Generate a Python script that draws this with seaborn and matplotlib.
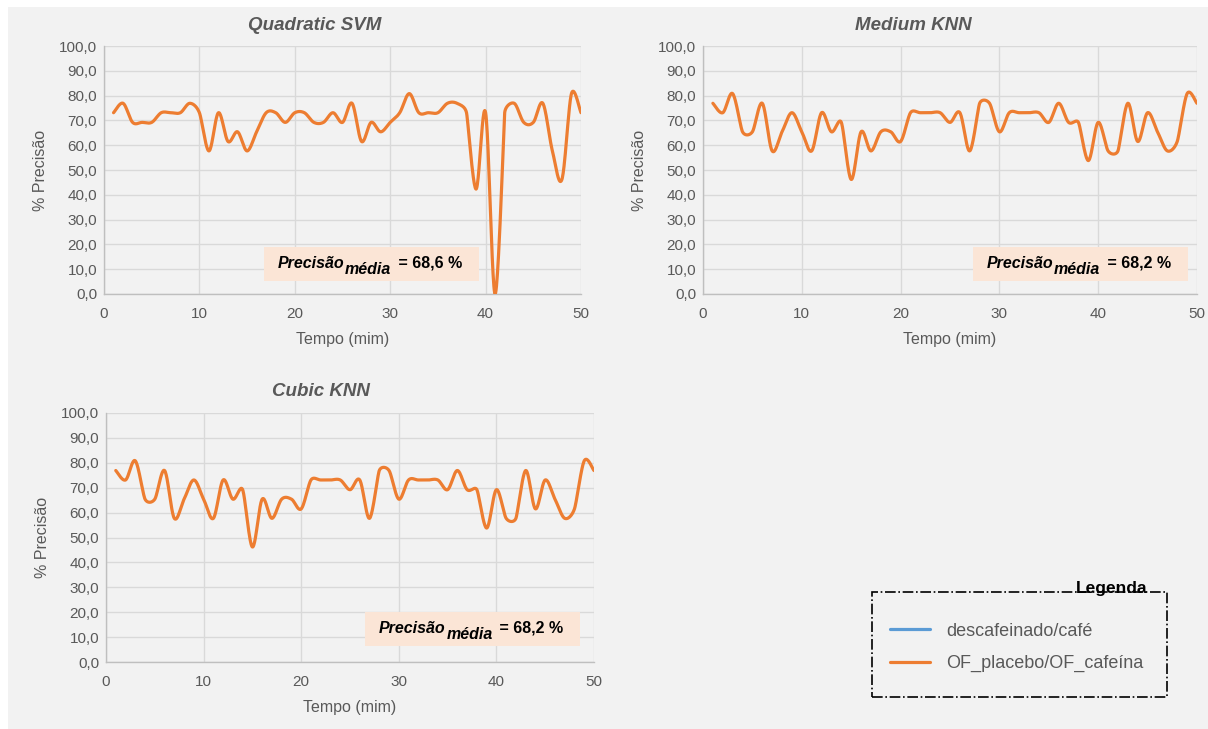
import matplotlib

matplotlib.use("Agg")
import matplotlib.pyplot as plt
import numpy as np
import seaborn as sns
from matplotlib.lines import Line2D
from matplotlib.patches import Rectangle

W, H, DPI = 1208, 729, 100

tempo = list(range(1, 51))

precisao_svm = [73.1, 76.9, 69.2, 69.2, 69.2, 73.1, 73.1, 73.1, 76.9, 73.1,
                57.7, 73.1, 61.5, 65.4, 57.7, 65.4, 73.1, 73.1, 69.2, 73.1,
                73.1, 69.2, 69.2, 73.1, 69.2, 76.9, 61.5, 69.2, 65.4, 69.2,
                73.1, 80.8, 73.1, 73.1, 73.1, 76.9, 76.9, 73.1, 42.3, 73.1,
                0.0, 73.1, 76.9, 69.2, 69.2, 76.9, 57.7, 46.2, 80.8, 73.1]

precisao_medium_knn = [76.9, 73.1, 80.8, 65.4, 65.4, 76.9, 57.7, 65.4, 73.1, 65.4,
                       57.7, 73.1, 65.4, 69.2, 46.2, 65.4, 57.7, 65.4, 65.4, 61.5,
                       73.1, 73.1, 73.1, 73.1, 69.2, 73.1, 57.7, 76.9, 76.9, 65.4,
                       73.1, 73.1, 73.1, 73.1, 69.2, 76.9, 69.2, 69.2, 53.8, 69.2,
                       57.7, 57.7, 76.9, 61.5, 73.1, 65.4, 57.7, 61.5, 80.8, 76.9]

precisao_cubic_knn = list(precisao_medium_knn)

titulos = ["Quadratic SVM", "Medium KNN", "Cubic KNN"]
medias = ["68,6 %", "68,2 %", "68,2 %"]
legenda = ["descafeinado/café", "OF_placebo/OF_cafeína"]

ORANGE = "#ed7d31"
BLUE = "#5b9bd5"
BG = "#f2f2f2"
TXT = "#595959"

sns.set_theme(style="whitegrid")
plt.rcParams["font.family"] = ["Liberation Sans", "DejaVu Sans"]


def smooth(x, y, n=24, kx=9.6, ky=2.48):
    """Excel-like smoothed line for drawing only: Bezier segments whose
    control arms are 1/6 of the neighbour chord, capped at half the shorter
    adjacent segment (measured in screen-ish units) to avoid overshoot."""
    p = np.column_stack([x, y]).astype(float)
    p = np.vstack([p[0], p, p[-1]])
    scale = np.array([kx, ky])

    def arm(i):
        a, b, c = p[i - 1], p[i], p[i + 1]
        d01 = np.hypot(*((b - a) * scale))
        d12 = np.hypot(*((c - b) * scale))
        d02 = np.hypot(*((c - a) * scale))
        f = 1 / 6
        if d02 > 0:
            f = min(f, 0.5 * min(d01 if d01 > 0 else d12, d12 if d12 > 0 else d01) / d02)
        return (c - a) * f

    t = np.linspace(0, 1, n)[:, None]
    out = []
    for i in range(1, len(p) - 2):
        p1, p2 = p[i], p[i + 1]
        c1 = p1 + arm(i)
        c2 = p2 - arm(i + 1)
        seg = ((1 - t) ** 3) * p1 + 3 * ((1 - t) ** 2) * t * c1 \
            + 3 * (1 - t) * t ** 2 * c2 + t ** 3 * p2
        out.append(seg if i == 1 else seg[1:])
    s = np.vstack(out)
    return s[:, 0], s[:, 1]


def px_axes(fig, l, t, r, b):
    return fig.add_axes([l / W, 1 - b / H, (r - l) / W, (b - t) / H])


fig = plt.figure(figsize=(W / DPI, H / DPI), dpi=DPI, facecolor="white")
fig.patches.append(Rectangle((8 / W, 0), 1, 1 - 7 / H, transform=fig.transFigure,
                             facecolor=BG, edgecolor="none", zorder=-10))

# (axes box in px, title centre x, annotation box in axes fraction)
layout = [
    ((104, 46, 581, 294), 315, (0.335, 0.052, 0.451, 0.138)),
    ((703, 46, 1197, 294), 913, (0.546, 0.052, 0.435, 0.138)),
    ((106, 413, 594, 662), 321, (0.531, 0.064, 0.440, 0.138)),
]
series = [precisao_svm, precisao_medium_knn, precisao_cubic_knn]

for (box, tx, ann), titulo, media, vals in zip(layout, titulos, medias, series):
    ax = px_axes(fig, *box)
    ax.set_facecolor(BG)
    sx, sy = smooth(tempo, vals)
    sns.lineplot(x=sx, y=sy, ax=ax, color=ORANGE, lw=2.3, sort=False,
                 estimator=None, legend=False, zorder=3)
    ax.set_xlim(0, 50)
    ax.set_ylim(0, 100)
    ax.set_xticks(range(0, 51, 10))
    ax.set_yticks(range(0, 101, 10))
    ax.set_yticklabels([f"{v:.1f}".replace(".", ",") for v in range(0, 101, 10)])
    ax.grid(True, color="#d9d9d9", lw=1.0)
    for s in ["top", "right"]:
        ax.spines[s].set_visible(False)
    for s in ["left", "bottom"]:
        ax.spines[s].set_color("#bfbfbf")
        ax.spines[s].set_linewidth(1.0)
    ax.tick_params(axis="both", length=0, labelsize=11, labelcolor=TXT)
    ax.tick_params(axis="x", pad=9.5)
    ax.tick_params(axis="y", pad=5)
    ax.set_xlabel("Tempo (mim)", fontsize=11.5, color=TXT, labelpad=8)
    ax.set_ylabel("% Precisão", fontsize=11.5, color=TXT, labelpad=8)
    fig.text(tx / W, 1 - (box[1] - 21) / H, titulo, ha="center", va="center",
             fontsize=13.5, fontweight="bold", style="italic", color=TXT)

    bx, by, bw, bh = ann
    ax.add_patch(Rectangle((bx, by), bw, bh, transform=ax.transAxes,
                           facecolor="#fbe5d6", edgecolor="none", zorder=4))
    t1 = ax.annotate("Precisão", xy=(bx, by), xycoords="axes fraction",
                     xytext=(10, 9.5), textcoords="offset points", va="baseline",
                     ha="left", fontsize=11.5, fontweight="bold", style="italic",
                     color="black", zorder=5)
    t2 = ax.annotate("média", xy=(1, 0), xycoords=t1, xytext=(0.5, -4.5),
                     textcoords="offset points", va="bottom", ha="left",
                     fontsize=11.5, fontweight="bold", style="italic",
                     color="black", zorder=5)
    ax.annotate(f" = {media}", xy=(1, 0), xycoords=(t2, t1), xytext=(2, 0),
                textcoords="offset points", va="bottom", ha="left",
                fontsize=11.5, fontweight="bold", color="black", zorder=5)

# legend block
fig.patches.append(Rectangle((872 / W, 1 - 697 / H), (1167 - 872) / W, (697 - 592) / H,
                             transform=fig.transFigure, facecolor="none",
                             edgecolor="black", lw=1.2, ls="-.", zorder=5))
fig.text(1147 / W, 1 - 588 / H, "Legenda", ha="right", va="center",
         fontsize=12.5, fontweight="bold", color="black", zorder=6)
handles = [Line2D([], [], color=BLUE, lw=2.3), Line2D([], [], color=ORANGE, lw=2.3)]
leg = fig.legend(handles, legenda, loc="center left",
                 bbox_to_anchor=(890 / W, 1 - 647.5 / H), frameon=False,
                 fontsize=13, handlelength=2.2, handletextpad=0.9,
                 labelspacing=0.85, borderpad=0, borderaxespad=0)
for t in leg.get_texts():
    t.set_color(TXT)

fig.savefig("out.png", dpi=DPI, facecolor="white")
